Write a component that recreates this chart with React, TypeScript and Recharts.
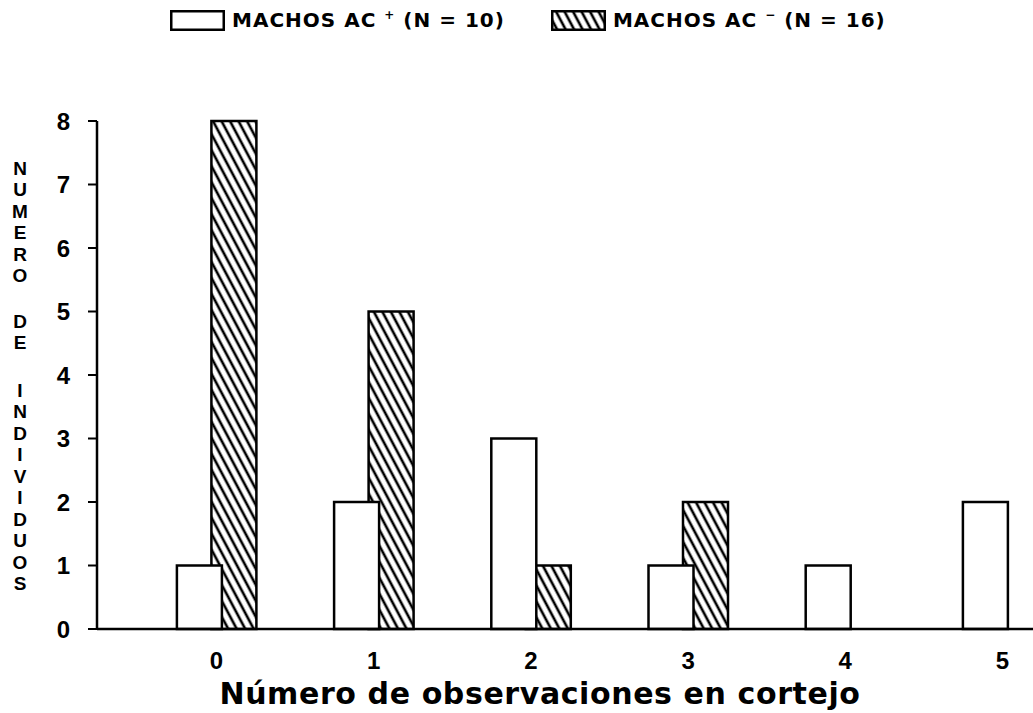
import React from "react";
import { Bar, BarChart, Label, Legend, XAxis, YAxis } from "recharts";

// number of courtship observations (x) and number of males per class
const categories = [0, 1, 2, 3, 4, 5];
const acPlus = [1, 2, 3, 1, 1, 2]; // MACHOS AC+ (N = 10)
const acMinus = [8, 5, 1, 2, 0, 0]; // MACHOS AC- (N = 16)
const yTicks = [0, 1, 2, 3, 4, 5, 6, 7, 8];
const legendSigns = ["+", "−"];
const legendCounts = ["(N = 10)", "(N = 16)"];
const xTitle = "Número de observaciones en cortejo";
const yTitleWords = ["NUMERO", "DE", "INDIVIDUOS"];

const data = categories.map((x, i) => ({ x, plus: acPlus[i], minus: acMinus[i] }));

const TICK_FONT = "'Liberation Sans', Arial, sans-serif";
const HEAVY_FONT = "'DejaVu Sans', sans-serif";

function HatchDef({ id }: { id: string }) {
  return (
    <pattern
      id={id}
      patternUnits="userSpaceOnUse"
      width={7.5}
      height={7.5}
      patternTransform="rotate(-28)"
    >
      <rect width={7.5} height={7.5} fill="#fff" />
      <line x1={3.75} y1={0} x2={3.75} y2={7.5} stroke="#000" strokeWidth={2.6} />
    </pattern>
  );
}

function LegendBox({ hatched }: { hatched: boolean }) {
  return (
    <svg width={55} height={21} style={{ display: "block" }}>
      <defs>
        <HatchDef id="legend-hatch" />
      </defs>
      <rect
        x={1.25}
        y={1.25}
        width={52.5}
        height={18.5}
        fill={hatched ? "url(#legend-hatch)" : "#fff"}
        stroke="#000"
        strokeWidth={2.5}
      />
    </svg>
  );
}

function LegendContent() {
  return (
    <div
      style={{
        display: "flex",
        alignItems: "center",
        paddingLeft: 170,
        paddingTop: 8,
        fontFamily: HEAVY_FONT,
        fontWeight: 700,
        fontSize: 20,
        letterSpacing: 1,
        color: "#000",
        whiteSpace: "nowrap",
      }}
    >
      {legendSigns.map((sign, i) => (
        <div
          key={i}
          style={{ display: "flex", alignItems: "center", marginLeft: i === 0 ? 0 : 46 }}
        >
          <LegendBox hatched={i === 1} />
          <span style={{ marginLeft: 7 }}>
            MACHOS AC <sup style={{ fontSize: 12 }}>{sign}</sup> {legendCounts[i]}
          </span>
        </div>
      ))}
    </div>
  );
}

function XTick({ x, y, payload }: any) {
  // labels sit at the middle of each pair of bars
  return (
    <text
      x={x + 17}
      y={y}
      dy="0.71em"
      textAnchor="middle"
      fontFamily={TICK_FONT}
      fontWeight={700}
      fontSize={24}
      fill="#000"
    >
      {payload.value}
    </text>
  );
}

function XTitle() {
  return (
    <text
      x={540}
      y={704}
      textAnchor="middle"
      fontFamily={HEAVY_FONT}
      fontWeight={700}
      fontSize={30}
      letterSpacing={0.6}
      fill="#000"
    >
      {xTitle}
    </text>
  );
}

function YTitle() {
  const wordStarts = [168, 321, 390];
  const step = 21.5;
  return (
    <text
      textAnchor="middle"
      fontFamily={TICK_FONT}
      fontWeight={700}
      fontSize={19}
      fill="#000"
    >
      {yTitleWords.flatMap((word, wi) =>
        word.split("").map((ch, ci) => (
          <tspan key={`${wi}-${ci}`} x={20} y={wordStarts[wi] + ci * step} dy="0.36em">
            {ch}
          </tspan>
        ))
      )}
    </text>
  );
}

export default function App() {
  return (
    <div style={{ position: "absolute", left: 0, top: 0, background: "#fff" }}>
      <BarChart
        width={1033}
        height={713}
        data={data}
        margin={{ top: 121, right: 0, bottom: 0, left: 0 }}
      >
        <defs>
          <HatchDef id="hatch" />
        </defs>
        <Legend
          layout="horizontal"
          verticalAlign="middle"
          align="center"
          wrapperStyle={{ top: 0, left: 0, width: 1033 }}
          content={<LegendContent />}
        />
        <XAxis
          xAxisId="minus"
          type="number"
          dataKey="x"
          domain={[0, 5]}
          padding={{ left: 137, right: 13 }}
          height={0}
          hide
        />
        <XAxis
          xAxisId="plus"
          type="number"
          dataKey="x"
          domain={[0, 5]}
          ticks={categories}
          interval={0}
          padding={{ left: 102.5, right: 47.5 }}
          axisLine={{ stroke: "#000", strokeWidth: 2.5 }}
          tickLine={false}
          tickSize={0}
          tickMargin={23}
          tick={<XTick />}
          height={84}
        >
          <Label content={<XTitle />} />
        </XAxis>
        <YAxis
          type="number"
          domain={[0, 8]}
          ticks={yTicks}
          interval={0}
          width={97}
          axisLine={{ stroke: "#000", strokeWidth: 2.5 }}
          tickLine={{ stroke: "#000", strokeWidth: 2 }}
          tickSize={9}
          tickMargin={18}
          tick={{ fill: "#000", fontFamily: TICK_FONT, fontWeight: 700, fontSize: 24 }}
        >
          <Label content={<YTitle />} />
        </YAxis>
        <Bar
          xAxisId="minus"
          dataKey="minus"
          barSize={45}
          fill="url(#hatch)"
          stroke="#000"
          strokeWidth={2.5}
          isAnimationActive={false}
        />
        <Bar
          xAxisId="plus"
          dataKey="plus"
          barSize={45}
          fill="#fff"
          stroke="#000"
          strokeWidth={2.5}
          isAnimationActive={false}
        />
      </BarChart>
    </div>
  );
}
